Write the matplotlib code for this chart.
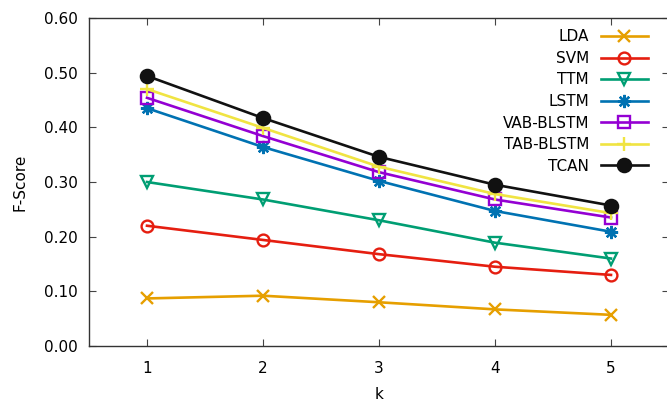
import matplotlib
matplotlib.use("Agg")
import matplotlib.pyplot as plt

k = [1, 2, 3, 4, 5]
lda = [0.087, 0.092, 0.080, 0.067, 0.057]
svm = [0.220, 0.194, 0.168, 0.145, 0.130]
ttm = [0.300, 0.268, 0.230, 0.189, 0.160]
lstm = [0.435, 0.364, 0.302, 0.247, 0.209]
vab_blstm = [0.454, 0.384, 0.318, 0.268, 0.235]
tab_blstm = [0.470, 0.399, 0.328, 0.278, 0.243]
tcan = [0.494, 0.417, 0.346, 0.295, 0.257]
yticks = [0.0, 0.1, 0.2, 0.3, 0.4, 0.5, 0.6]

series = [
    ("LDA", lda, "#e69f00", "x", 8.5, True),
    ("SVM", svm, "#e51e10", "o", 8.5, False),
    ("TTM", ttm, "#009e73", "v", 8.5, False),
    ("LSTM", lstm, "#0072b2", (8, 2, 0), 9.5, True),
    ("VAB-BLSTM", vab_blstm, "#9400d3", "s", 8.5, False),
    ("TAB-BLSTM", tab_blstm, "#f0e442", "+", 10, True),
    ("TCAN", tcan, "#111111", "o", 9.5, True),
]

plt.rcParams['font.family'] = ['DejaVu Sans']
fig = plt.figure(figsize=(6.67, 4.04), dpi=100)
ax = fig.add_axes([89/667, 58/404, 1.003 - 89/667, (346-18)/404])

for name, vals, col, mk, ms, filled in series:
    ax.plot(k, vals, color=col, lw=1.9, marker=mk, markersize=ms,
            markeredgewidth=1.7, markeredgecolor=col,
            markerfacecolor=col if filled else 'none', label=name)

ax.set_xlim(0.5, 5.5)
ax.set_ylim(0, 0.6)
ax.set_xticks(k)
ax.set_yticks(yticks)
ax.set_yticklabels([f"{v:.2f}" for v in yticks])
ax.tick_params(direction='in', length=5, width=0.8, color='#444444',
               top=True, right=True, labelsize=11, pad=8,
               labeltop=False, labelright=False)
ax.tick_params(axis='x', pad=11)
for s in ax.spines.values():
    s.set_color('#333333')
    s.set_linewidth(1.0)
ax.set_xlabel("k", fontsize=11, labelpad=8)
ax.set_ylabel("F-Score", fontsize=11, labelpad=12)

leg = ax.legend(loc='upper right', markerfirst=False, frameon=False,
                fontsize=11, handlelength=3.1, handletextpad=0.75,
                labelspacing=0.43, borderaxespad=0.3,
                bbox_to_anchor=(0.982, 0.998))

fig.savefig("out.png", dpi=100)
